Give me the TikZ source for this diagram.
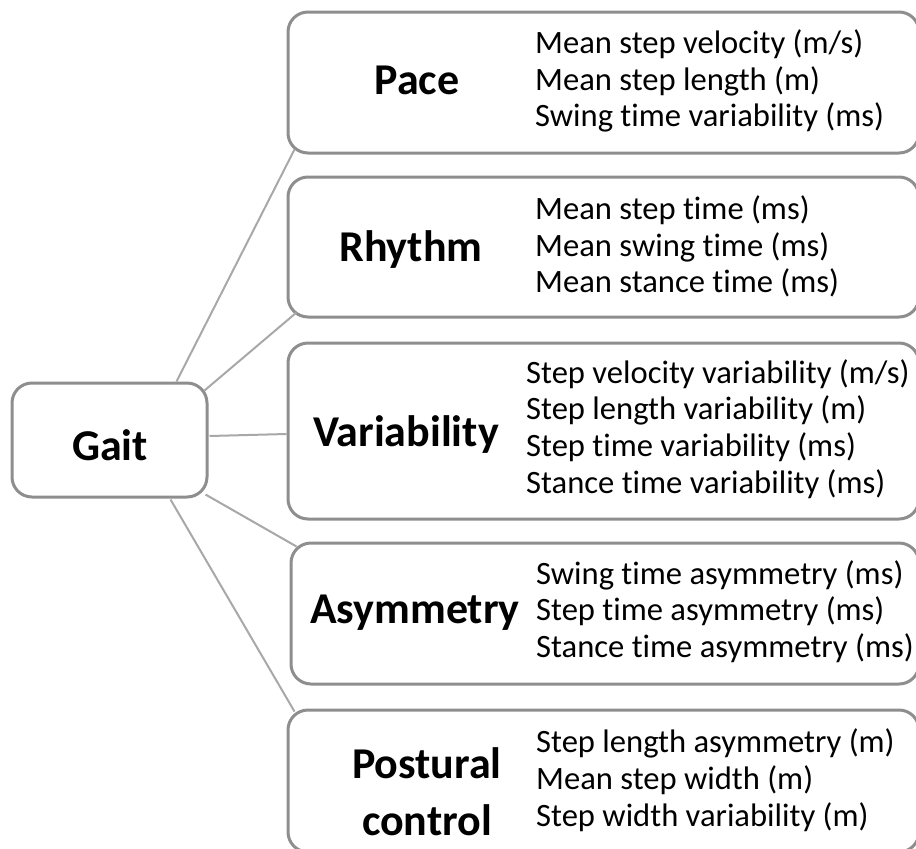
\documentclass[tikz,border=0pt]{standalone}
\usepackage{fontspec}
\setmainfont{Carlito}[Ligatures=NoCommon]
\usetikzlibrary{calc}
\definecolor{boxline}{HTML}{8E8E8E}
\definecolor{linkline}{HTML}{A8A8A8}
\tikzset{
  groupbox/.style={draw=boxline, line width=3pt, rounded corners=20pt, fill=white, inner sep=0pt},
  title/.style={font=\fontsize{44}{57}\selectfont\bfseries, align=center, inner sep=0pt},
  items/.style={font=\fontsize{32.6}{36.8}\selectfont, align=left, anchor=west, inner sep=0pt},
  link/.style={draw=linkline, line width=2pt}
}
\begin{document}
\begin{tikzpicture}[x=1pt, y=-1pt]
\useasboundingbox (0,0) rectangle (916,849);
\clip (0,0) rectangle (916,849);

% root
\node[groupbox, minimum width=195pt, minimum height=114pt] (gait) at (109.5,440) {};
\node[title] (gaitt) at (110,445) {Gait};

% group boxes
\node[groupbox, minimum width=631pt, minimum height=141pt] (pace) at (603.5,82.5) {};
\node[groupbox, minimum width=631pt, minimum height=140pt] (rhythm) at (603.5,247) {};
\node[groupbox, minimum width=631pt, minimum height=176pt] (var) at (603.5,431) {};
\node[groupbox, minimum width=628pt, minimum height=141pt] (asym) at (605,613.5) {};
\node[groupbox, minimum width=631pt, minimum height=142pt] (post) at (603.5,781) {};

% connectors
\draw[link] ($(gait.north west)+(166,0)$) -- ($(pace.south west)+(8,-5)$);
\draw[link] ($(gait.north east)+(-4,9)$) -- ($(rhythm.south west)+(10,-6)$);
\draw[link] ($(gait.east)+(1,-4)$) -- ($(var.west)+(0,3)$);
\draw[link] ($(gait.south east)+(-3,-4)$) -- ($(asym.north west)+(7,5)$);
\draw[link] ($(gait.south west)+(160,1)$) -- ($(post.north west)+(8,3)$);

% titles
\node[title] (pacet) at (417,80) {Pace};
\node[title] (rhythmt) at (411,250) {Rhythm};
\node[title] (vart) at (406,435) {Variability};
\node[title] (asymt) at (415,613) {Asymmetry};
\node[title] (postt) at (427,792) {Postural\\control};

% measures
\node[items] (pacei) at (535,81) {Mean step velocity (m/s)\\Mean step length (m)\\Swing time variability (ms)};
\node[items] (rhythmi) at (535,246.5) {Mean step time (ms)\\Mean swing time (ms)\\Mean stance time (ms)};
\node[items] (vari) at (526,429) {Step velocity variability (m/s)\\Step length variability (m)\\Step time variability (ms)\\Stance time variability (ms)};
\node[items] (asymi) at (536,611.5) {Swing time asymmetry (ms)\\Step time asymmetry (ms)\\Stance time asymmetry (ms)};
\node[items] (posti) at (536,780) {Step length asymmetry (m)\\Mean step width (m)\\Step width variability (m)};
\end{tikzpicture}
\end{document}
